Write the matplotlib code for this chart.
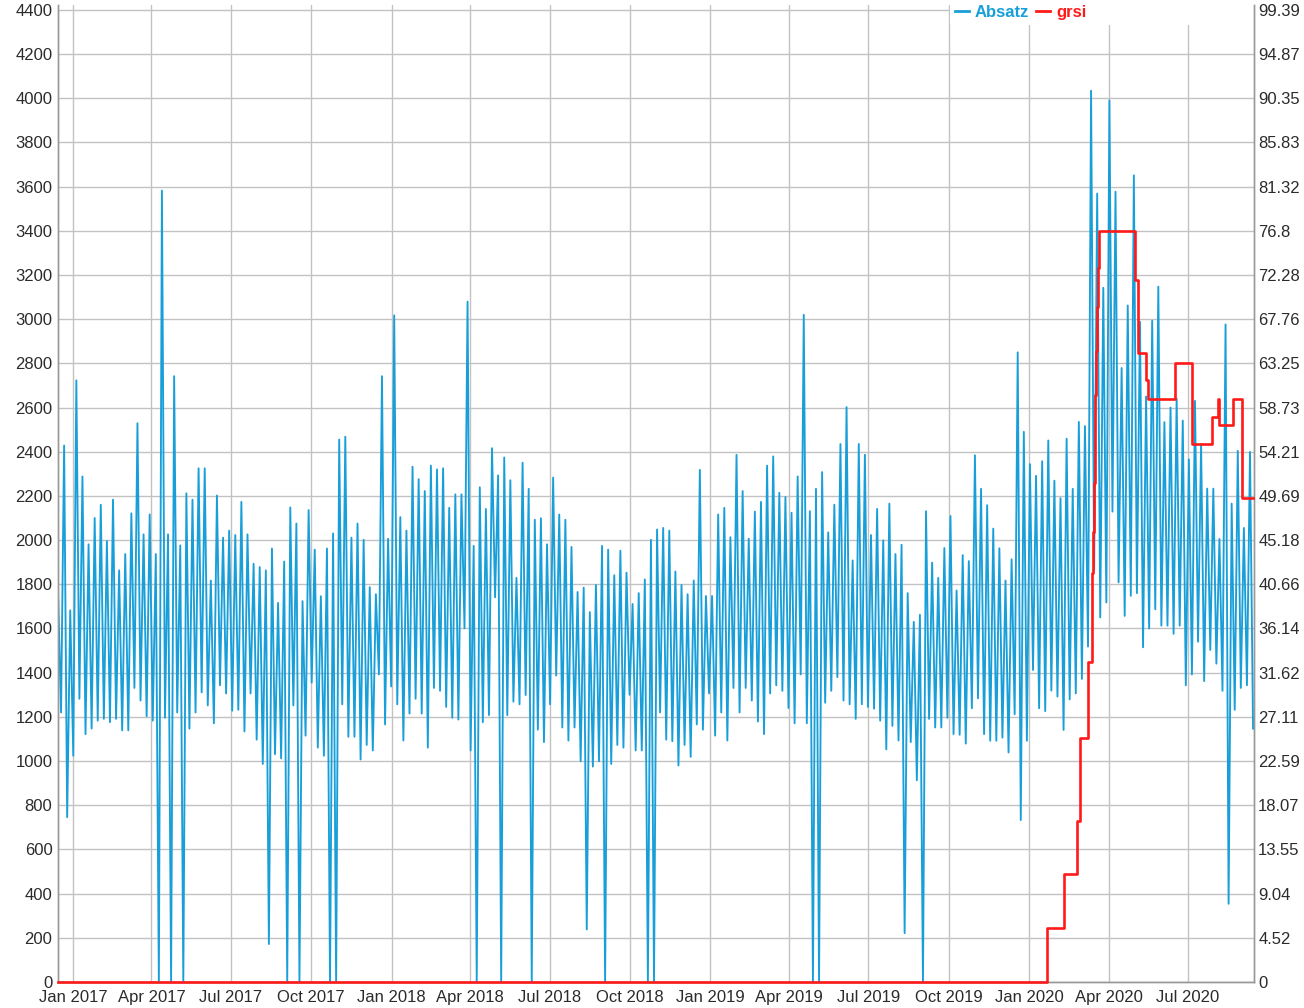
import matplotlib
matplotlib.use("Agg")
import matplotlib.pyplot as plt
from matplotlib.patches import Rectangle
from matplotlib.ticker import FixedLocator
import numpy as np
import pandas as pd

plt.rcParams['font.family'] = ['Liberation Sans', 'DejaVu Sans']

# Absatz: weekly peak and weekly low, one pair per week
erster_tag = "2016-12-15"
absatz_hoch = [
    1773, 2428, 1682, 2723, 2288, 1981, 2100, 2160, 1996, 2183,
    1863, 1937, 2121, 2529, 2026, 2116, 1937, 3582, 2026, 2742,
    1976, 2212, 2183, 2325, 2325, 1817, 2202, 2011, 2043, 2023,
    2173, 2026, 1893, 1878, 1863, 1962, 1716, 1903, 2148, 2075,
    1724, 2136, 1957, 1746, 1962, 2030, 2455, 2468, 2011, 2075,
    2001, 1787, 1755, 2742, 2006, 3017, 2104, 2043, 2332, 2276,
    2222, 2337, 2320, 2325, 2146, 2207, 2207, 3079, 1974, 2239,
    2141, 2416, 2293, 2374, 2271, 1829, 2350, 2232, 2092, 2099,
    1981, 2283, 2116, 2092, 1969, 1765, 1785, 1674, 1797, 1974,
    1957, 1841, 1952, 1853, 1711, 1760, 1822, 2001, 2048, 2055,
    2043, 1858, 1797, 1755, 1817, 2318, 1747, 1747, 2116, 2146,
    2013, 2386, 2222, 2006, 2129, 2173, 2337, 2379, 2214, 2195,
    2124, 2288, 3020, 2131, 2232, 2308, 2035, 2160, 2435, 2602,
    1908, 2435, 2386, 2023, 2141, 1999, 2165, 1937, 1979, 1760,
    1630, 1662, 2131, 1898, 1829, 1964, 2109, 1772, 1932, 1905,
    2384, 2232, 2158, 2052, 1963, 1817, 1913, 2850, 2490, 2344,
    2291, 2357, 2451, 2269, 2190, 2459, 2232, 2535, 2516, 4034,
    3568, 3142, 3990, 3577, 2779, 3062, 3651, 2988, 2650, 2993,
    3147, 2534, 2600, 2640, 2541, 2365, 2630, 2434, 2233, 2233,
    2005, 2976, 2165, 2404, 2055, 2399,
]
absatz_tief = [
    1220, 746, 1024, 1282, 1122, 1147, 1183, 1191, 1176, 1191,
    1139, 1139, 1331, 1274, 1203, 1183, 0, 1196, 0, 1220,
    0, 1147, 1220, 1311, 1252, 1171, 1343, 1306, 1228, 1232,
    1134, 1306, 1097, 987, 172, 1031, 1012, 0, 1252, 0,
    1115, 1355, 1061, 1024, 0, 0, 1257, 1110, 1110, 1007,
    1073, 1048, 1392, 1166, 1338, 1257, 1093, 1215, 1282, 1215,
    1061, 1331, 1318, 1245, 1196, 1188, 1601, 1048, 0, 1176,
    1208, 1741, 0, 1208, 1269, 1257, 1299, 0, 1142, 1086,
    1257, 1387, 1152, 1093, 1152, 999, 238, 975, 999, 0,
    987, 1073, 1061, 1300, 1048, 1048, 0, 0, 1220, 1097,
    1090, 980, 1073, 1019, 1166, 1142, 1306, 1115, 1220, 1093,
    1331, 1220, 1331, 1274, 1179, 1122, 1306, 1343, 1318, 1240,
    1171, 1392, 1171, 0, 0, 1264, 1318, 1380, 1274, 1257,
    1191, 1257, 1245, 1237, 1183, 1053, 1159, 1093, 221, 1086,
    913, 0, 1191, 1152, 1152, 1196, 1122, 1119, 1079, 1239,
    1284, 1122, 1092, 1092, 1106, 1039, 1212, 733, 1092, 1412,
    1239, 1226, 1319, 1292, 1141, 1279, 1306, 1372, 1518, 1865,
    1650, 1718, 2129, 1809, 1657, 1748, 1760, 1515, 1600, 1687,
    1613, 1613, 1576, 1613, 1343, 1392, 1540, 1362, 1503, 1441,
    1318, 354, 1232, 1331, 1343, 1147,
]

# grsi: step values (right axis)
grsi_datum = [
    "2016-12-15", "2020-01-22", "2020-02-10", "2020-02-25", "2020-02-28",
    "2020-03-08", "2020-03-13", "2020-03-14", "2020-03-15", "2020-03-16",
    "2020-03-17", "2020-03-18", "2020-03-19", "2020-03-20", "2020-03-21",
    "2020-05-01", "2020-05-05", "2020-05-14", "2020-05-16", "2020-06-16",
    "2020-07-06", "2020-07-29", "2020-08-04", "2020-08-06", "2020-08-22",
    "2020-09-01", "2020-09-14",
]
grsi_wert = [
    0, 5.5, 11.0, 16.5, 24.9, 32.7, 41.8, 46.0, 51.0, 55.5,
    60.0, 64.5, 69.0, 73.0, 76.8, 71.8, 64.3, 61.5, 59.6, 63.3,
    55.0, 57.8, 59.6, 56.9, 59.6, 49.5, 49.5,
]

links_ticks = list(range(0, 4401, 200))
rechts_labels = ["0", "4.52", "9.04", "13.55", "18.07", "22.59", "27.11", "31.62",
                 "36.14", "40.66", "45.18", "49.69", "54.21", "58.73", "63.25",
                 "67.76", "72.28", "76.8", "81.32", "85.83", "90.35", "94.87", "99.39"]

BLAU = '#189fd9'
ROT = '#ff1a1a'
GRID = '#c2c2c2'
TEXT = '#2b2b2b'

# build the zigzag: peak at start of week, low half a week later
wochen = pd.date_range(erster_tag, periods=len(absatz_hoch), freq='7D')
x_tief = wochen + pd.Timedelta(hours=84)
absatz_x = np.empty(2 * len(wochen), dtype='datetime64[ns]')
absatz_x[0::2] = wochen.values
absatz_x[1::2] = x_tief.values
absatz_y = np.empty(2 * len(wochen))
absatz_y[0::2] = absatz_hoch
absatz_y[1::2] = absatz_tief

W, H = 1304, 1008
fig = plt.figure(figsize=(W / 100, H / 100), dpi=100)
fig.patch.set_facecolor('white')
ax = fig.add_axes([58 / W, 1 - 982 / H, (1254 - 58) / W, (982 - 5) / H])
ax2 = ax.twinx()

ymax = 4422
ax.set_ylim(0, ymax)
ax2.set_ylim(0, 99.39 * ymax / 4400)
ax.set_xlim(pd.Timestamp("2016-12-15"), pd.Timestamp("2020-09-14 14:00"))

ax.plot(absatz_x, absatz_y, color=BLAU, lw=1.35, zorder=3, label='Absatz')
ax2.plot(pd.to_datetime(grsi_datum), grsi_wert, color=ROT, lw=1.9,
         drawstyle='steps-post', clip_on=False, zorder=4, label='grsi')

# ticks
ax.yaxis.set_major_locator(FixedLocator(links_ticks))
ax.set_yticklabels([str(v) for v in links_ticks])
ax2.yaxis.set_major_locator(FixedLocator(np.linspace(0, 99.39, 23)))
ax2.set_yticklabels(rechts_labels)

quartale = pd.date_range("2017-01-01", "2020-07-01", freq='QS')
ax.set_xticks(quartale)
ax.set_xticklabels([d.strftime('%b %Y') for d in quartale])

for a in (ax, ax2):
    a.tick_params(axis='both', length=0, labelsize=12, colors=TEXT)
ax.tick_params(axis='y', pad=4)
ax2.tick_params(axis='y', pad=3)
ax.tick_params(axis='x', pad=6)

ax.grid(True, color=GRID, lw=1)
ax.set_axisbelow(True)

for a in (ax, ax2):
    a.spines['top'].set_visible(False)
    for s in ('left', 'right', 'bottom'):
        a.spines[s].set_color('#999999')
        a.spines[s].set_linewidth(1)

# white band behind the legend
ax.add_patch(Rectangle((0.746, 1 - 20 / 977), 0.26, 20 / 977 + 0.01,
                       transform=ax.transAxes, facecolor='white',
                       edgecolor='none', zorder=2, clip_on=False))

h1, _ = ax.get_legend_handles_labels()
h2, _ = ax2.get_legend_handles_labels()
leg = ax2.legend(h1 + h2, ['Absatz', 'grsi'], loc='upper left',
                 bbox_to_anchor=(955 / W, 1 - 5 / H), bbox_transform=fig.transFigure,
                 ncol=2, frameon=False, borderpad=0, borderaxespad=0,
                 handlelength=0.85, handletextpad=0.35, columnspacing=0.4,
                 prop={'size': 12, 'weight': 'bold'})
for txt, col in zip(leg.get_texts(), [BLAU, ROT]):
    txt.set_color(col)
for ln in leg.get_lines():
    ln.set_linewidth(2)

fig.savefig('out.png', dpi=100, facecolor='white')
